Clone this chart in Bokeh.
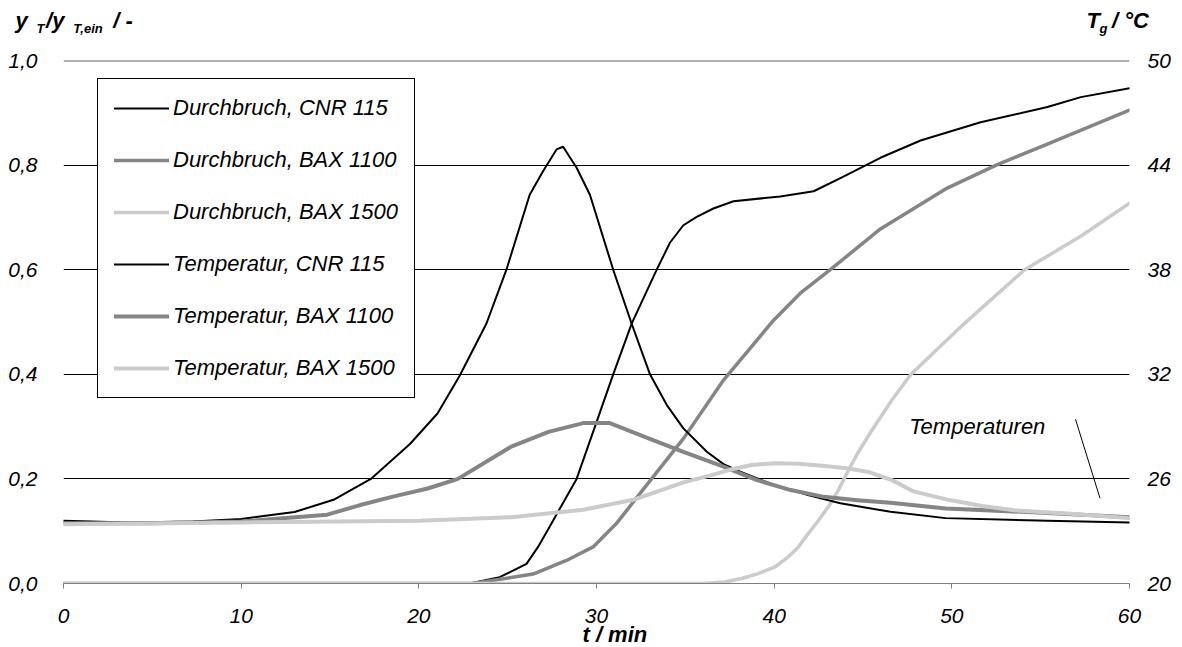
from bokeh.plotting import figure
from bokeh.models import (Range1d, LinearAxis, FixedTicker, CustomJSTickFormatter,
                          Legend, LegendItem, Label, Span)
from bokeh.embed import file_html
from bokeh.resources import INLINE

# ---------------- data ----------------
# Breakthrough curves, left axis y_T / y_T,ein
bt_cnr_t = [0, 22.86, 24.55, 26.06, 26.71, 27.37, 28.88, 29.81, 30.94, 31.98, 33.39, 34.14, 34.89,
            35.64, 36.58, 37.71, 40.35, 42.22, 43.73, 45.98, 48.24, 51.62, 55.38, 57.26, 60]
bt_cnr_v = [0, 0, 0.012, 0.0375, 0.07, 0.109, 0.2, 0.29, 0.40, 0.497, 0.60, 0.652, 0.685,
            0.701, 0.717, 0.731, 0.74, 0.75, 0.775, 0.814, 0.847, 0.882, 0.911, 0.93, 0.947]

bt_1100_t = [0, 23.0, 26.43, 28.31, 29.81, 31.13, 32.63, 34.89, 37.15, 39.97, 41.47, 43.16, 45.98,
             49.74, 52.56, 55.38, 60]
bt_1100_v = [0, 0, 0.018, 0.044, 0.07, 0.115, 0.18, 0.277, 0.389, 0.5035, 0.555, 0.60, 0.678,
             0.756, 0.801, 0.84, 0.905]

bt_1500_t = [0, 36.0, 37.2, 38.17, 39.1, 40.05, 40.8, 41.37, 41.93, 42.5, 43.06, 43.62, 44.19,
             44.75, 45.5, 46.63, 47.7, 50.7, 54.1, 57.3, 60]
bt_1500_v = [0, 0, 0.003, 0.0096, 0.019, 0.032, 0.051, 0.070, 0.096, 0.121, 0.147, 0.179, 0.217,
             0.252, 0.293, 0.351, 0.40, 0.497, 0.60, 0.665, 0.727]

# Temperature curves, right axis T_g / °C
temp_cnr_t = [0, 3.6, 7.3, 10, 13, 15.2, 17.3, 19.5, 21.05, 22.29, 23.8, 24.93, 26.24, 26.99, 27.75,
              28.12, 28.88, 29.63, 30.94, 31.98, 33.01, 33.95, 34.89, 36.21, 37.15, 38.09, 40.0,
              41.9, 43.73, 46.55, 49.65, 55.4, 60]
temp_cnr_T = [23.6, 23.5, 23.55, 23.7, 24.1, 24.8, 26.0, 28.0, 29.75, 31.9, 34.9, 38.0, 42.3, 43.65,
              44.9, 45.05, 43.85, 42.3, 38.0, 34.9, 32.0, 30.25, 28.9, 27.56, 26.85, 26.41, 25.65,
              25.07, 24.6, 24.11, 23.75, 23.6, 23.5]

temp_1100_t = [0, 5, 10, 14.85, 16.7, 18.6, 20.5, 22.2, 25.2, 27.3, 29.25, 30.75, 33.0, 34.89,
               37.15, 39.03, 40.93, 42.8, 44.67, 46.55, 49.65, 55.4, 60]
temp_1100_T = [23.45, 23.45, 23.55, 23.95, 24.5, 25.0, 25.45, 26.0, 27.85, 28.7, 29.2, 29.2, 28.3,
               27.55, 26.7, 25.93, 25.36, 24.97, 24.78, 24.63, 24.3, 24.05, 23.8]

temp_1500_t = [0, 10, 20, 25.2, 29.25, 32.07, 34.9, 36.47, 37.6, 38.73, 40.05, 41.37, 42.87, 44.19,
               45.3, 46.63, 47.8, 49.8, 51.7, 53.5, 56.7, 60]
temp_1500_T = [23.4, 23.5, 23.6, 23.8, 24.23, 24.8, 25.8, 26.22, 26.55, 26.8, 26.9, 26.87, 26.74,
               26.6, 26.4, 25.93, 25.3, 24.8, 24.45, 24.2, 24.0, 23.75]

x_ticks = [0, 10, 20, 30, 40, 50, 60]
y_ticks = [0.0, 0.2, 0.4, 0.6, 0.8, 1.0]
t_ticks = [20, 26, 32, 38, 44, 50]

labels = ["Durchbruch, CNR 115", "Durchbruch, BAX 1100", "Durchbruch, BAX 1500",
          "Temperatur, CNR 115", "Temperatur, BAX 1100", "Temperatur, BAX 1500"]

# ---------------- styling ----------------
FONT = "Liberation Sans"
BLACK = "#000000"
DGRAY = "#858585"
LGRAY = "#cbcbcb"
NB = "\u00a0"

FL, FT, FW, FH = 63, 60, 1066, 523  # frame left/top offsets and size (canvas px)

p = figure(frame_width=FW, frame_height=FH, min_border_left=FL, min_border_top=FT,
           min_border_right=53, min_border_bottom=64,
           x_range=Range1d(0, 60), y_range=Range1d(0, 1),
           output_backend="svg", toolbar_location=None,
           background_fill_color="white", border_fill_color="white")
p.outline_line_color = None
p.extra_y_ranges = {"temp": Range1d(20, 50)}

# axes
xa = p.xaxis[0]
xa.ticker = FixedTicker(ticks=x_ticks)
xa.axis_line_color = "#808080"
xa.major_tick_line_color = "#808080"
xa.major_tick_out = 5
xa.major_tick_in = 0
xa.minor_tick_line_color = None
xa.major_label_standoff = 20
xa.major_label_text_font = FONT
xa.major_label_text_font_style = "italic"
xa.major_label_text_font_size = "21px"
xa.major_label_text_color = BLACK
xa.axis_label = NB * 6 + "t / min"
xa.axis_label_standoff = -4
xa.axis_label_text_font = FONT
xa.axis_label_text_font_style = "bold italic"
xa.axis_label_text_font_size = "22px"
xa.axis_label_text_color = BLACK

ya = p.yaxis[0]
ya.ticker = FixedTicker(ticks=y_ticks)
ya.formatter = CustomJSTickFormatter(code="return tick.toFixed(1).replace('.', ',');")
ya.axis_line_color = None
ya.major_tick_line_color = None
ya.minor_tick_line_color = None
ya.major_label_standoff = 20
ya.major_label_text_font = FONT
ya.major_label_text_font_style = "italic"
ya.major_label_text_font_size = "21px"
ya.major_label_text_color = BLACK

ra = LinearAxis(y_range_name="temp", ticker=FixedTicker(ticks=t_ticks))
ra.axis_line_color = None
ra.major_tick_line_color = None
ra.minor_tick_line_color = None
ra.major_label_standoff = 12
ra.major_label_text_font = FONT
ra.major_label_text_font_style = "italic"
ra.major_label_text_font_size = "21px"
ra.major_label_text_color = BLACK
p.add_layout(ra, "right")

p.xgrid.grid_line_color = None
p.ygrid.ticker = FixedTicker(ticks=y_ticks[1:])
p.ygrid.grid_line_color = BLACK
p.ygrid.grid_line_width = 1
p.add_layout(Span(location=y_ticks[-1], dimension="width", line_color="#606060", line_width=2))

# lines
common = dict(line_join="round", line_cap="round")
r1 = p.line(bt_cnr_t, bt_cnr_v, line_color=BLACK, line_width=2, **common)
r2 = p.line(bt_1100_t, bt_1100_v, line_color=DGRAY, line_width=3.5, **common)
r3 = p.line(bt_1500_t, bt_1500_v, line_color=LGRAY, line_width=3.5, **common)
r4 = p.line(temp_cnr_t, temp_cnr_T, y_range_name="temp", line_color=BLACK, line_width=2, **common)
r5 = p.line(temp_1100_t, temp_1100_T, y_range_name="temp", line_color=DGRAY, line_width=4, **common)
r6 = p.line(temp_1500_t, temp_1500_T, y_range_name="temp", line_color=LGRAY, line_width=4, **common)

legend = Legend(items=[LegendItem(label=lab, renderers=[r]) for lab, r in
                       zip(labels, [r1, r2, r3, r4, r5, r6])],
                location=(34, 185), margin=0, padding=16, spacing=26,
                glyph_width=55, glyph_height=20, label_height=24, label_standoff=4,
                border_line_color=BLACK, border_line_width=1, border_line_alpha=1,
                background_fill_color="white", background_fill_alpha=1,
                label_text_font=FONT, label_text_font_style="italic",
                label_text_font_size="22px", label_text_color=BLACK)
p.add_layout(legend)

# annotation "Temperaturen"
ann_text_x, ann_text_y = 47.6, 0.30
ann_line = ([56.96, 58.34], [0.314, 0.163])
p.add_layout(Label(x=ann_text_x, y=ann_text_y, text="Temperaturen", text_font=FONT,
                   text_font_style="italic", text_font_size="22px", text_color=BLACK,
                   text_baseline="alphabetic"))
p.line(ann_line[0], ann_line[1], line_color=BLACK, line_width=1)

# axis titles above the frame: one label for the subscripts (panel nearest the frame),
# one for the main characters (next panel up)
sub_text = "T" + NB * 8 + "T,ein" + NB * 276 + "g"
main_text = "y" + NB * 3 + "/y" + NB * 8 + "/ -" + NB * 156 + "T" + NB * 2 + "/ °C"
p.add_layout(Label(x=36 - FL, y=FT - 31 + 3, x_units="screen", y_units="screen", text=sub_text,
                   text_font=FONT, text_font_style="bold italic", text_font_size="13px",
                   text_color=BLACK, text_baseline="alphabetic"), "above")
p.add_layout(Label(x=15 - FL, y=(FT - 14.5) - 28 + 8, x_units="screen", y_units="screen",
                   text=main_text, text_font=FONT, text_font_style="bold italic",
                   text_font_size="22px", text_color=BLACK, text_baseline="alphabetic"),
             "above")

open("out.html", "w").write(file_html(p, INLINE))
